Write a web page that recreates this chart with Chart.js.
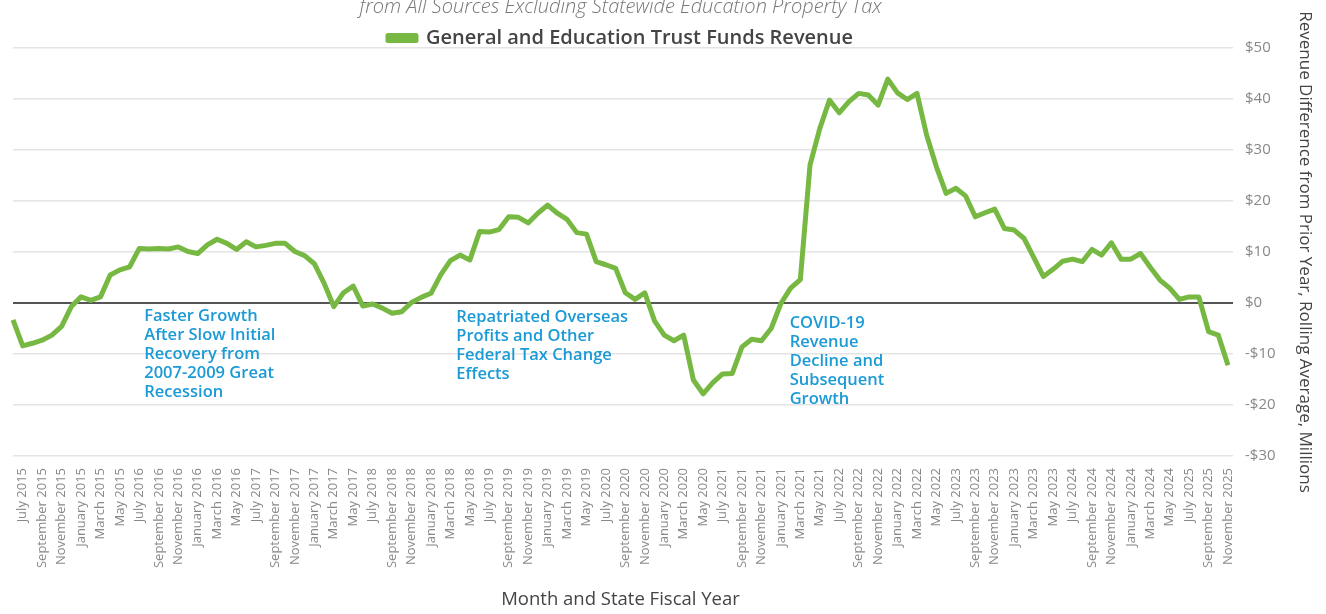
<!DOCTYPE html>
<html lang="en">
<head>
<meta charset="UTF-8">
<title>General and Education Trust Funds Revenue</title>
<script src="https://cdn.jsdelivr.net/npm/chart.js"></script>
<style>
    body { margin: 0; background: white; }
    #wrap { width: 1326px; height: 614px; }
</style>
</head>
<body>
<div id="wrap"><canvas id="myChart"></canvas></div>
<script>
    // labels shown under the axis (every other month)
    var tickLabels = [
        'July 2015', 'September 2015', 'November 2015', 'January 2015', 'March 2015', 'May 2015',
        'July 2016', 'September 2016', 'November 2016', 'January 2016', 'March 2016', 'May 2016',
        'July 2017', 'September 2017', 'November 2017', 'January 2017', 'March 2017', 'May 2017',
        'July 2018', 'September 2018', 'November 2018', 'January 2018', 'March 2018', 'May 2018',
        'July 2019', 'September 2019', 'November 2019', 'January 2019', 'March 2019', 'May 2019',
        'July 2020', 'September 2020', 'November 2020', 'January 2020', 'March 2020', 'May 2020',
        'July 2021', 'September 2021', 'November 2021', 'January 2021', 'March 2021', 'May 2021',
        'July 2022', 'September 2022', 'November 2022', 'January 2022', 'March 2022', 'May 2022',
        'July 2023', 'September 2023', 'November 2023', 'January 2023', 'March 2023', 'May 2023',
        'July 2024', 'September 2024', 'November 2024', 'January 2024', 'March 2024', 'May 2024',
        'July 2025', 'September 2025', 'November 2025'
    ];

    // monthly values, $ millions (first point is the month before July 2015)
    var revenue = [
        -3.3, -8.4, -7.9, -7.3, -6.3, -4.6, -0.7, 1.2, 0.5, 1.2,
        5.5, 6.5, 7.1, 10.7, 10.6, 10.7, 10.6, 11.0, 10.1, 9.7,
        11.4, 12.5, 11.7, 10.5, 12.0, 11.0, 11.3, 11.7, 11.7, 10.1,
        9.3, 7.7, 3.9, -0.7, 2.0, 3.3, -0.6, -0.2, -1.0, -2.0,
        -1.7, 0.1, 1.1, 1.9, 5.5, 8.3, 9.4, 8.4, 14.0, 13.9,
        14.4, 16.9, 16.8, 15.7, 17.6, 19.2, 17.6, 16.4, 13.8, 13.5,
        8.1, 7.5, 6.8, 2.0, 0.7, 2.0, -3.5, -6.3, -7.4, -6.3,
        -15.1, -17.8, -15.6, -13.9, -13.8, -8.6, -7.1, -7.4, -5.0, -0.1,
        2.9, 4.6, 27.1, 34.2, 39.8, 37.3, 39.5, 41.1, 40.8, 38.8,
        43.9, 41.2, 39.9, 41.1, 32.9, 26.7, 21.5, 22.5, 21.0, 16.9,
        17.7, 18.4, 14.6, 14.3, 12.7, 9.0, 5.2, 6.6, 8.2, 8.6,
        8.1, 10.5, 9.4, 11.8, 8.6, 8.6, 9.7, 7.0, 4.5, 2.9,
        0.7, 1.2, 1.2, -5.6, -6.3, -12.2
    ];

    var noteTexts = [
        ['Faster Growth', 'After Slow Initial', 'Recovery from', '2007-2009 Great', 'Recession'],
        ['Repatriated Overseas', 'Profits and Other', 'Federal Tax Change', 'Effects'],
        ['COVID-19', 'Revenue', 'Decline and', 'Subsequent', 'Growth']
    ];
    // where each note starts: [month index, value]
    var notePlaces = [[13.5, -2.7], [45.6, -2.9], [79.9, -3.9]];

    var categories = [];
    for (var i = 0; i < revenue.length; i++) {
        categories.push(i % 2 === 1 ? tickLabels[(i - 1) / 2] : '');
    }

    var notesPlugin = {
        id: 'notes',
        afterDatasetsDraw: function (chart) {
            var ctx = chart.ctx;
            var xs = chart.scales.x, ys = chart.scales.y;
            ctx.save();
            ctx.fillStyle = '#1b9ad6';
            ctx.font = '600 16.5px "Open Sans"';
            ctx.textAlign = 'left';
            ctx.textBaseline = 'middle';
            for (var n = 0; n < noteTexts.length; n++) {
                var x = xs.getPixelForValue(notePlaces[n][0]);
                var y = ys.getPixelForValue(notePlaces[n][1]);
                for (var k = 0; k < noteTexts[n].length; k++) {
                    ctx.fillText(noteTexts[n][k], x, y + k * 19);
                }
            }
            ctx.restore();
        }
    };

    Chart.defaults.font.family = '"Open Sans", sans-serif';

    var ctx = document.getElementById('myChart').getContext('2d');
    var myChart = new Chart(ctx, {
        type: 'line',
        data: {
            labels: categories,
            datasets: [{
                label: 'General and Education Trust Funds Revenue',
                data: revenue,
                borderColor: '#77b843',
                backgroundColor: '#77b843',
                borderWidth: 5,
                pointRadius: 0,
                tension: 0,
                borderJoinStyle: 'round',
                fill: false
            }]
        },
        options: {
            responsive: true,
            maintainAspectRatio: false,
            animation: false,
            layout: { padding: { left: 13, top: 0, right: 0, bottom: 0 } },
            plugins: {
                title: {
                    display: true,
                    fullSize: false,
                    text: 'from All Sources Excluding Statewide Education Property Tax',
                    color: '#777',
                    font: { size: 20, style: 'italic', weight: '300', lineHeight: 1 },
                    padding: { top: -3, bottom: 5 }
                },
                legend: {
                    display: true,
                    position: 'top',
                    fullSize: false,
                    maxHeight: 26,
                    labels: {
                        boxWidth: 28,
                        boxHeight: 5,
                        color: '#444',
                        font: { size: 20, weight: '600' },
                        padding: 6
                    }
                },
                tooltip: { enabled: false }
            },
            scales: {
                x: {
                    offset: false,
                    grid: { display: false },
                    border: { display: false },
                    ticks: {
                        autoSkip: false,
                        minRotation: 90,
                        maxRotation: 90,
                        color: '#888',
                        font: { size: 13 },
                        padding: 4
                    },
                    title: {
                        display: true,
                        text: 'Month and State Fiscal Year',
                        color: '#444',
                        font: { size: 18.5 },
                        padding: { top: 0, bottom: 3 }
                    },
                    afterFit: function (scale) { scale.height = 158; }
                },
                y: {
                    position: 'right',
                    min: -30,
                    max: 50,
                    border: { display: false },
                    grid: {
                        color: function (c) { return c.tick && c.tick.value === 0 ? '#555' : '#e4e4e4'; },
                        lineWidth: function (c) { return c.tick && c.tick.value === 0 ? 2 : 1.5; },
                        tickLength: 5,
                        drawTicks: true
                    },
                    ticks: {
                        stepSize: 10,
                        color: '#888',
                        font: { size: 15 },
                        padding: 12,
                        callback: function (v) { return v < 0 ? '-$' + Math.abs(v) : '$' + v; }
                    },
                    title: {
                        display: true,
                        text: 'Revenue Difference from Prior Year, Rolling Average, Millions',
                        color: '#444',
                        font: { size: 17 },
                        padding: { top: 11, bottom: 0 }
                    },
                    afterFit: function (scale) { scale.width = 98; }
                }
            }
        },
        plugins: [notesPlugin]
    });
</script>
</body>
</html>
